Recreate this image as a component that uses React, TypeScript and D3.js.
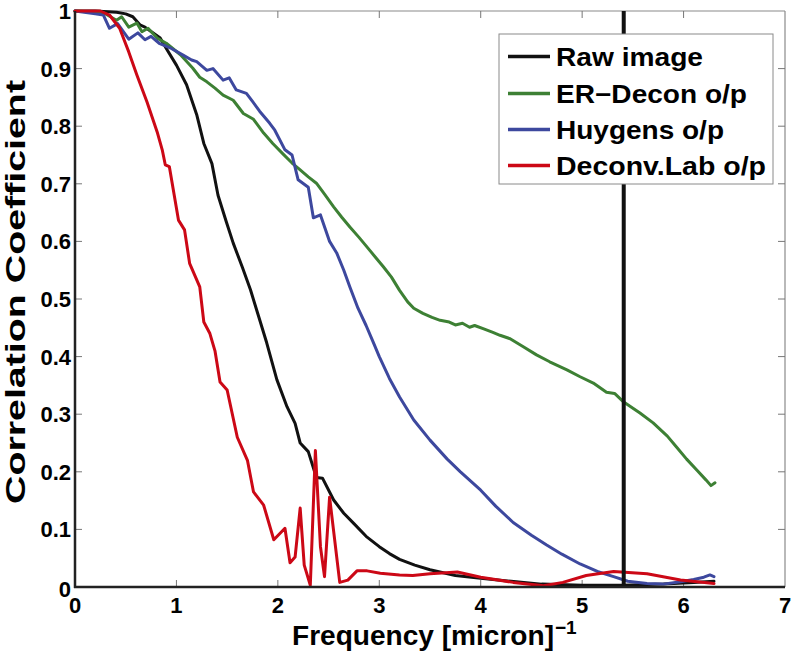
import React from "react";
import * as d3 from "d3";

const xTicks = [0, 1, 2, 3, 4, 5, 6, 7];
const yTicks = [0, 0.1, 0.2, 0.3, 0.4, 0.5, 0.6, 0.7, 0.8, 0.9, 1];
const yTickLabels = ["0", "0.1", "0.2", "0.3", "0.4", "0.5", "0.6", "0.7", "0.8", "0.9", "1"];
const cutoffFreq = 5.41;

const seriesNames = ["Raw image", "ER\u2212Decon o/p", "Huygens o/p", "Deconv.Lab o/p"];
const seriesColors = ["#111111", "#3d8034", "#3d489e", "#cc0816"];

const rawX = [0, 0.2, 0.41, 0.5, 0.57, 0.64, 0.69, 0.76, 0.84, 0.9, 1.0, 1.1, 1.2, 1.27, 1.35, 1.41, 1.49, 1.56, 1.65, 1.73, 1.81, 1.89, 1.99, 2.09, 2.17, 2.22, 2.3, 2.38, 2.44, 2.55, 2.65, 2.75, 2.87, 3.0, 3.1, 3.2, 3.35, 3.5, 3.75, 4.0, 4.3, 4.6, 5.0, 5.4, 5.8, 6.1, 6.3];
const rawY = [1, 1, 0.998, 0.995, 0.99, 0.976, 0.972, 0.963, 0.953, 0.935, 0.906, 0.872, 0.82, 0.77, 0.735, 0.68, 0.635, 0.597, 0.555, 0.516, 0.47, 0.424, 0.36, 0.313, 0.284, 0.25, 0.235, 0.19, 0.189, 0.151, 0.128, 0.11, 0.088, 0.07, 0.058, 0.048, 0.038, 0.03, 0.02, 0.015, 0.01, 0.005, 0.003, 0.003, 0.005, 0.008, 0.01];

const erX = [0, 0.28, 0.41, 0.46, 0.53, 0.61, 0.66, 0.72, 0.81, 0.9, 1.04, 1.16, 1.23, 1.3, 1.38, 1.46, 1.56, 1.66, 1.76, 1.86, 1.95, 2.05, 2.14, 2.22, 2.3, 2.38, 2.46, 2.55, 2.63, 2.71, 2.8, 2.88, 2.96, 3.04, 3.12, 3.2, 3.28, 3.34, 3.43, 3.52, 3.6, 3.69, 3.75, 3.82, 3.89, 3.94, 4.03, 4.12, 4.19, 4.29, 4.42, 4.55, 4.68, 4.85, 4.98, 5.11, 5.24, 5.32, 5.41, 5.57, 5.7, 5.84, 5.93, 6.03, 6.13, 6.22, 6.27, 6.31];
const erY = [1, 0.997, 0.984, 0.99, 0.972, 0.979, 0.964, 0.97, 0.953, 0.944, 0.924, 0.901, 0.885, 0.877, 0.866, 0.854, 0.845, 0.822, 0.812, 0.788, 0.77, 0.752, 0.736, 0.724, 0.712, 0.701, 0.682, 0.66, 0.642, 0.625, 0.607, 0.59, 0.573, 0.556, 0.538, 0.515, 0.495, 0.484, 0.475, 0.468, 0.463, 0.46, 0.455, 0.458, 0.451, 0.454, 0.448, 0.442, 0.437, 0.431, 0.417, 0.403, 0.391, 0.377, 0.365, 0.354, 0.338, 0.336, 0.321, 0.302, 0.285, 0.262, 0.243, 0.222, 0.203, 0.186, 0.176, 0.181];

const huyX = [0, 0.2, 0.28, 0.34, 0.42, 0.53, 0.62, 0.69, 0.75, 0.83, 0.95, 1.07, 1.15, 1.2, 1.3, 1.36, 1.46, 1.52, 1.59, 1.69, 1.75, 1.82, 1.92, 1.97, 2.07, 2.14, 2.2, 2.3, 2.35, 2.42, 2.51, 2.58, 2.65, 2.71, 2.79, 2.87, 2.94, 3.0, 3.1, 3.2, 3.34, 3.5, 3.67, 3.8, 4.0, 4.15, 4.32, 4.5, 4.65, 4.8, 4.98, 5.15, 5.31, 5.45, 5.64, 5.8, 5.97, 6.1, 6.2, 6.26, 6.3];
const huyY = [1, 0.995, 0.993, 0.97, 0.978, 0.951, 0.962, 0.95, 0.956, 0.944, 0.935, 0.923, 0.915, 0.912, 0.897, 0.9, 0.88, 0.884, 0.863, 0.857, 0.843, 0.826, 0.805, 0.793, 0.759, 0.75, 0.707, 0.694, 0.641, 0.646, 0.6, 0.58, 0.55, 0.521, 0.484, 0.454, 0.425, 0.4, 0.362, 0.33, 0.29, 0.255, 0.222, 0.2, 0.168, 0.14, 0.112, 0.09, 0.073, 0.057, 0.04, 0.027, 0.018, 0.01, 0.006, 0.005, 0.009, 0.013, 0.017, 0.021, 0.018];

const dlX = [0, 0.25, 0.34, 0.44, 0.53, 0.61, 0.71, 0.81, 0.86, 0.89, 0.93, 1.02, 1.08, 1.13, 1.23, 1.27, 1.33, 1.38, 1.43, 1.5, 1.6, 1.7, 1.76, 1.86, 1.96, 2.07, 2.12, 2.17, 2.22, 2.26, 2.32, 2.37, 2.42, 2.46, 2.51, 2.61, 2.69, 2.78, 2.88, 3.01, 3.2, 3.33, 3.5, 3.77, 4.0, 4.32, 4.62, 4.81, 5.04, 5.31, 5.64, 5.97, 6.3];
const dlY = [1, 1, 0.993, 0.97, 0.929, 0.889, 0.842, 0.79, 0.759, 0.733, 0.73, 0.637, 0.62, 0.562, 0.521, 0.46, 0.44, 0.41, 0.356, 0.342, 0.26, 0.22, 0.165, 0.142, 0.082, 0.102, 0.042, 0.052, 0.137, 0.038, 0.003, 0.237, 0.07, 0.018, 0.156, 0.008, 0.012, 0.028, 0.028, 0.024, 0.021, 0.02, 0.023, 0.026, 0.017, 0.008, 0.002, 0.008, 0.02, 0.027, 0.023, 0.012, 0.006];

const seriesX = [rawX, erX, huyX, dlX];
const seriesY = [rawY, erY, huyY, dlY];

const FONT = "'Liberation Sans', Arial, Helvetica, sans-serif";

export default function App() {
  const W = 794, H = 655;
  const x = d3.scaleLinear().domain([0, 7]).range([75, 785]);
  const y = d3.scaleLinear().domain([0, 1]).range([587, 11]);
  const line = d3.line<[number, number]>().x(d => x(d[0])).y(d => y(d[1]));

  const [x0, x1] = x.range();
  const [y0, y1] = y.range();

  const legX = 499, legY = 34, legW = 274, legH = 150;
  const legBaselines = [66, 103, 139, 175];
  const legTextLen = [147, 191, 168, 210];

  return (
    <svg width={W} height={H} style={{ position: "absolute", left: 0, top: 0, background: "#fff" }} fontFamily={FONT}>
      <rect x={0} y={0} width={W} height={H} fill="#fff" />
      {/* box top/right */}
      <line x1={x0} x2={x1} y1={y1} y2={y1} stroke="#8a8a8a" strokeWidth={1.2} />
      <line x1={x1} x2={x1} y1={y1} y2={y0} stroke="#8a8a8a" strokeWidth={1.2} />
      {/* ticks */}
      {xTicks.slice(1, -1).map(t => (
        <g key={"xt" + t}>
          <line x1={x(t)} x2={x(t)} y1={y0} y2={y0 - 7} stroke="#777" strokeWidth={1} />
          <line x1={x(t)} x2={x(t)} y1={y1} y2={y1 + 7} stroke="#777" strokeWidth={1} />
        </g>
      ))}
      {yTicks.slice(1, -1).map(t => (
        <g key={"yt" + t}>
          <line x1={x0} x2={x0 + 7} y1={y(t)} y2={y(t)} stroke="#777" strokeWidth={1} />
          <line x1={x1} x2={x1 - 7} y1={y(t)} y2={y(t)} stroke="#777" strokeWidth={1} />
        </g>
      ))}
      {/* curves */}
      {seriesX.map((xs, i) => (
        <path
          key={"s" + i}
          d={line(xs.map((v, j) => [v, seriesY[i][j]] as [number, number])) || ""}
          fill="none"
          stroke={seriesColors[i]}
          strokeWidth={3}
          strokeLinejoin="round"
          strokeLinecap="round"
        />
      ))}
      {/* cutoff line */}
      <line x1={x(cutoffFreq)} x2={x(cutoffFreq)} y1={y(1)} y2={y(0)} stroke="#111" strokeWidth={4} />
      {/* main axes */}
      <line x1={x0} x2={x0} y1={y1} y2={y0 + 1} stroke="#222" strokeWidth={2.5} />
      <line x1={x0 - 1} x2={x1} y1={y0} y2={y0} stroke="#222" strokeWidth={2.5} />
      {/* tick labels */}
      {xTicks.map(t => (
        <text key={"xl" + t} x={x(t)} y={613} textAnchor="middle" fontSize={22} fontWeight="bold" fill="#000">
          {String(t)}
        </text>
      ))}
      {yTicks.map((t, i) => (
        <text key={"yl" + t} x={71} y={y(t) + (t === 0 ? 10 : 8)} textAnchor="end" fontSize={22} fontWeight="bold" fill="#000">
          {yTickLabels[i]}
        </text>
      ))}
      {/* axis titles */}
      <text x={292} y={645} fontSize={28} fontWeight="bold" fill="#000" textLength={262} lengthAdjust="spacingAndGlyphs">
        Frequency [micron]
      </text>
      <text x={555} y={634} fontSize={19} fontWeight="bold" fill="#000">
        {"\u22121"}
      </text>
      <text
        transform={`translate(25, ${292}) rotate(-90)`}
        textAnchor="middle"
        fontSize={27}
        fontWeight="bold"
        fill="#000"
        textLength={424}
        lengthAdjust="spacingAndGlyphs"
      >
        Correlation Coefficient
      </text>
      {/* legend */}
      <rect x={legX} y={legY} width={legW} height={legH} fill="#fff" stroke="#8a8a8a" strokeWidth={1} />
      {seriesNames.map((n, i) => (
        <g key={"lg" + i}>
          <line x1={508} x2={550} y1={legBaselines[i] - 9.5} y2={legBaselines[i] - 9.5} stroke={seriesColors[i]} strokeWidth={3.5} />
          <text x={556} y={legBaselines[i]} fontSize={25} fontWeight="bold" fill="#000" textLength={legTextLen[i]} lengthAdjust="spacingAndGlyphs">
            {n}
          </text>
        </g>
      ))}
    </svg>
  );
}
